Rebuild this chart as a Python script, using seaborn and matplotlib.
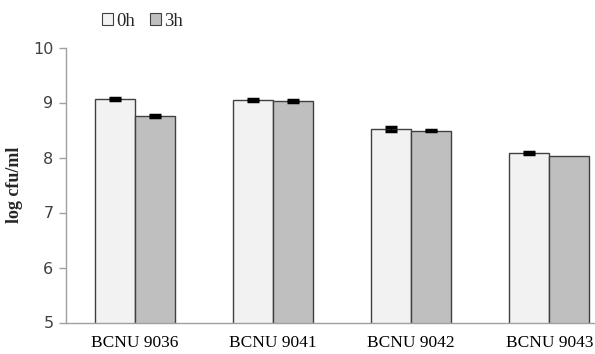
import matplotlib
matplotlib.use("Agg")
import matplotlib.pyplot as plt
import seaborn as sns
import pandas as pd
import numpy as np
from matplotlib.patches import Patch

strains = ["BCNU 9036", "BCNU 9041", "BCNU 9042", "BCNU 9043"]
times = ["0h", "3h"]
vals_0h = [9.06, 9.05, 8.52, 8.08]
vals_3h = [8.76, 9.03, 8.49, 8.03]
err_0h = [0.02, 0.02, 0.03, 0.015]
err_3h = [0.02, 0.012, 0.015, 0.0]
colors = ["#F2F2F2", "#BFBFBF"]

df = pd.DataFrame({
    "strain": strains * 2,
    "time": ["0h"] * 4 + ["3h"] * 4,
    "value": vals_0h + vals_3h,
})

sns.set_style("white")
plt.rcParams["font.family"] = ["Liberation Serif", "DejaVu Serif"]

fig = plt.figure(figsize=(5.95, 3.54), dpi=100)
ax = fig.add_axes([66 / 595, 1 - 322.5 / 354, 1 - 66 / 595, (322.5 - 47.5) / 354])

sns.barplot(data=df, x="strain", y="value", hue="time", order=strains,
            hue_order=times, palette=colors, width=0.58, gap=0,
            edgecolor="#404040", linewidth=1.0, errorbar=None, legend=False, ax=ax)

# error bars at bar centers
errs = err_0h + err_3h
for p, e, v in zip(ax.patches, errs, vals_0h + vals_3h):
    if e > 0:
        cx = p.get_x() + p.get_width() / 2
        ax.errorbar(cx, v, yerr=e, fmt="none", ecolor="black", elinewidth=1,
                    capsize=4, capthick=2.5, zorder=5)

ax.set_ylim(5, 10)
ax.set_xlim(-0.5, 3.33)
ax.set_yticks([5, 6, 7, 8, 9, 10])
ax.set_yticklabels(["5", "6", "7", "8", "9", "10"], family="DejaVu Sans",
                   fontsize=11.5, color="#404040")
ax.set_xticks([0, 1, 2, 3])
ax.set_xticklabels(strains, fontsize=12.5, color="black")
ax.set_xticks([-0.5, 0.5, 1.5, 2.5], minor=True)
ax.tick_params(axis="x", which="major", length=0, pad=9)
ax.tick_params(axis="x", which="minor", length=5, width=1, color="#A0A0A0", direction="out")
ax.tick_params(axis="y", length=5, width=1, color="#A0A0A0", direction="out", pad=4, left=True)
ax.set_xlabel("")
ax.set_ylabel("log cfu/ml", fontsize=13, fontweight="bold", labelpad=7)

for s in ["top", "right"]:
    ax.spines[s].set_visible(False)
for s in ["left", "bottom"]:
    ax.spines[s].set_color("#A0A0A0")
    ax.spines[s].set_linewidth(1)

handles = [Patch(facecolor=c, edgecolor="#404040", linewidth=0.8, label=t)
           for c, t in zip(colors, times)]
fig.legend(handles=handles, loc="center left", bbox_to_anchor=(102 / 595, 1 - 21 / 354),
           ncol=2, frameon=False, fontsize=13.5, handlelength=0.6, handleheight=0.6,
           handletextpad=0.15, columnspacing=0.8, borderaxespad=0, borderpad=0)

fig.savefig("out.png", dpi=100)
